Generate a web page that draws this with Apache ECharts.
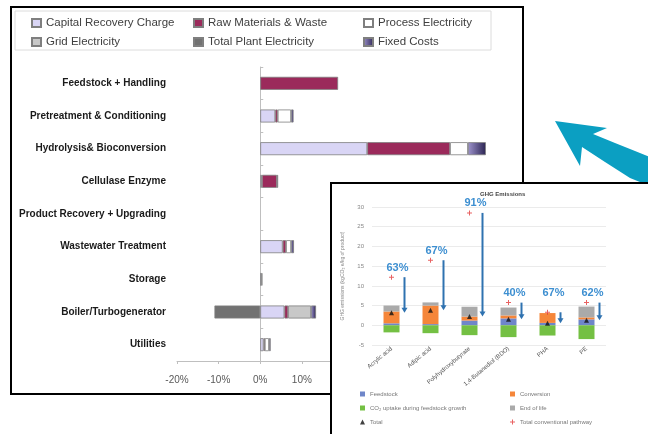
<!DOCTYPE html>
<html>
<head>
<meta charset="utf-8">
<script src="https://cdn.jsdelivr.net/npm/echarts@6/dist/echarts.min.js"></script>
<style>
  html, body { margin: 0; padding: 0; background: #ffffff; }
  #chart { width: 648px; height: 434px; }
</style>
</head>
<body>
<div id="chart"></div>
<script>
// ---- Cost contribution by process area (% of total) ----
const processAreas = ['Feedstock + Handling', 'Pretreatment & Conditioning', 'Hydrolysis& Bioconversion',
  'Cellulase Enzyme', 'Product Recovery + Upgrading', 'Wastewater Treatment', 'Storage',
  'Boiler/Turbogenerator', 'Utilities'];
const capitalRecovery       = [0, 3.6, 25.7, 0.4, 0, 5.4, 0.3, 5.8, 0.8];
const rawMaterials          = [18.7, 0.6, 19.9, 3.6, 0, 0.8, 0, 0.9, 0.3];
const processElectricity    = [0, 3.2, 4.3, 0, 0, 1.2, 0, 0, 1.0];
const gridElectricity       = [0, 0, 0, 0, 0, 0, 0, 5.5, 0];
const totalPlantElectricity = [0, 0, 0, 0, 0, 0, 0, -11.0, 0];
const fixedCosts            = [0, 0.6, 4.3, 0.3, 0, 0.7, 0.2, 1.2, 0.4];

// ---- GHG emissions per product (kg CO2e / kg product) ----
const products          = ['Acrylic acid', 'Adipic acid', 'Polyhydroxybutyrate', '1,4-Butanediol (BDO)', 'PHA', 'PE'];
const feedstockGhg      = [0.5, 0.3, 1.2, 1.75, 0.6, 1.5];
const conversionGhg     = [3.0, 4.7, 1.0, 0.75, 2.5, 0.5];
const co2Uptake         = [-1.8, -2.0, -2.5, -3.0, -2.6, -3.5];
const endOfLifeGhg      = [1.5, 0.8, 2.5, 2.0, 0, 2.75];
const totalBio          = [3.2, 3.8, 2.2, 1.5, 0.5, 1.25];
const totalConventional = [12.2, 16.5, 28.5, 5.75, 3.3, 5.75];
const reductionLabels   = ['63%', '67%', '91%', '40%', '67%', '62%'];

const chart = echarts.init(document.getElementById('chart'), null, { renderer: 'canvas' });

const noZero = arr => arr.map(v => (v === 0 ? '-' : v));
const segBorder = { borderColor: '#7f7f7f', borderWidth: 0.8 };
const FONT = '"Liberation Sans", Arial, sans-serif';

const costSeries = [
  { name: 'Capital Recovery Charge', data: capitalRecovery, color: '#d9d5f5' },
  { name: 'Raw Materials & Waste', data: rawMaterials, color: '#9b2a5b' },
  { name: 'Process Electricity', data: processElectricity, color: '#ffffff' },
  { name: 'Grid Electricity', data: gridElectricity, color: '#c8c8c8' },
  { name: 'Total Plant Electricity', data: totalPlantElectricity, color: '#727272' },
  { name: 'Fixed Costs', data: fixedCosts,
    color: new echarts.graphic.LinearGradient(0, 0, 1, 0, [
      { offset: 0, color: '#9d93cc' }, { offset: 1, color: '#2b2352' }]) }
].map(s => ({
  name: s.name, type: 'bar', stack: 'cost', barWidth: 13,
  xAxisIndex: 0, yAxisIndex: 0,
  itemStyle: Object.assign({ color: s.color }, segBorder),
  data: noZero(s.data)
}));

const ghgBars = [
  { name: 'Feedstock', data: feedstockGhg, color: '#6f86c9' },
  { name: 'Conversion', data: conversionGhg, color: '#f5863a' },
  { name: 'End of life', data: endOfLifeGhg, color: '#aaaaaa' },
  { name: 'CO\u2082 uptake during feedstock growth', data: co2Uptake, color: '#74c043' }
].map(s => ({
  name: s.name, type: 'bar', stack: 'ghg', barWidth: 16, z: 20,
  xAxisIndex: 1, yAxisIndex: 2,
  itemStyle: { color: s.color },
  data: noZero(s.data)
}));

const plusPath = 'path://M4,0H6V4H10V6H6V10H4V6H0V4H4Z';

const arrowBlue = '#2f72b0';
const reductionArrows = {
  name: 'reduction', type: 'custom', xAxisIndex: 1, yAxisIndex: 2, z: 22,
  encode: { x: 0, y: [1, 2] },
  data: products.map((p, i) => [i, totalConventional[i], totalBio[i]]),
  renderItem: function (params, api) {
    const i = api.value(0);
    const top = api.coord([i, api.value(1)]);
    const bot = api.coord([i, api.value(2)]);
    const x = top[0] + 13;
    return {
      type: 'group',
      children: [
        { type: 'line', shape: { x1: x, y1: top[1], x2: x, y2: bot[1] - 4 },
          style: { stroke: arrowBlue, lineWidth: 2 } },
        { type: 'polygon', shape: { points: [[x - 3, bot[1] - 5], [x + 3, bot[1] - 5], [x, bot[1]]] },
          style: { fill: arrowBlue } }
      ]
    };
  }
};

const reductionText = {
  name: 'reductionText', type: 'custom', xAxisIndex: 1, yAxisIndex: 2, z: 23,
  encode: { x: 0, y: 1 },
  data: products.map((p, i) => [i, totalConventional[i]]),
  renderItem: function (params, api) {
    const i = api.value(0);
    const conv = api.coord([i, api.value(1)]);
    const floor = api.coord([i, 5.75]);
    return {
      type: 'text',
      style: {
        text: reductionLabels[params.dataIndex],
        x: conv[0] + 6, y: Math.min(conv[1], floor[1]) - 4,
        align: 'center', verticalAlign: 'bottom',
        fill: '#3d8fd1', font: 'bold 11px ' + FONT
      }
    };
  }
};

const legendText = { color: '#404040', fontSize: 11.5, fontFamily: FONT };
const mainLegendPos = [
  ['Capital Recovery Charge', 31, 17], ['Raw Materials & Waste', 193, 17], ['Process Electricity', 363, 17],
  ['Grid Electricity', 31, 36], ['Total Plant Electricity', 193, 36], ['Fixed Costs', 363, 36]
];
const insetLegendText = { color: '#777777', fontSize: 6, fontFamily: FONT };
const insetLegendPos = [
  ['Feedstock', 360, 391, 'rect'], ['Conversion', 510, 391, 'rect'],
  ['CO\u2082 uptake during feedstock growth', 360, 405, 'rect'], ['End of life', 510, 405, 'rect'],
  ['Total', 360, 419, 'triangle'], ['Total conventional pathway', 510, 419, plusPath]
];

const legends = mainLegendPos.map(([n, l, t]) => ({
  data: [n], left: l, top: t, itemWidth: 9, itemHeight: 8, itemGap: 0,
  icon: 'rect', textStyle: legendText, padding: 0, selectedMode: false
})).concat(insetLegendPos.map(([n, l, t, ic]) => ({
  data: [n], left: l, top: t, itemWidth: 5, itemHeight: 5, itemGap: 0, z: 30,
  icon: ic, textStyle: insetLegendText, padding: 0, selectedMode: false
})));

const tealArrow = [[555, 121], [607, 128], [593, 134], [615, 143], [635, 151], [650, 157],
  [650, 186], [630, 178], [605, 162], [582, 147], [580, 166]];

const option = {
  backgroundColor: '#ffffff',
  animation: false,
  legend: legends,
  graphic: [
    { type: 'rect', z: 1, silent: true, shape: { x: 11, y: 7, width: 512, height: 387 },
      style: { fill: 'none', stroke: '#000000', lineWidth: 2 } },
    { type: 'rect', z: 1, silent: true, shape: { x: 15, y: 11, width: 476, height: 39 },
      style: { fill: 'none', stroke: '#dcdcdc', lineWidth: 1 } },
    { type: 'polygon', z: 5, silent: true, shape: { points: tealArrow },
      style: { fill: '#0b9fc2' } },
    { type: 'rect', z: 10, silent: true, shape: { x: 331, y: 183, width: 330, height: 260 },
      style: { fill: '#ffffff', stroke: '#000000', lineWidth: 2 } },
    { type: 'text', z: 25, silent: true, left: 480, top: 191,
      style: { text: 'GHG Emissions', fill: '#444444', font: 'bold 6px ' + FONT } },
    { type: 'text', z: 25, silent: true, x: 343, y: 276, rotation: Math.PI / 2,
      style: { text: 'GHG emissions (kgCO\u2082 e/kg of product)', fill: '#888888',
        font: '5px ' + FONT, align: 'center', verticalAlign: 'middle' } }
  ],
  grid: [
    { left: 177, top: 67, width: 333, height: 294 },
    { left: 372, top: 207, width: 234, height: 138, z: 20 }
  ],
  xAxis: [
    { type: 'value', gridIndex: 0, min: -20, max: 60, interval: 10,
      axisLine: { show: true, lineStyle: { color: '#bfbfbf' } },
      axisTick: { show: true, length: 3, lineStyle: { color: '#bfbfbf' } },
      splitLine: { show: false },
      axisLabel: { formatter: '{value}%', color: '#595959', fontSize: 10, margin: 14, fontFamily: FONT } },
    { type: 'category', gridIndex: 1, data: products, z: 20,
      axisLine: { show: false }, axisTick: { show: false },
      axisLabel: { rotate: 40, interval: 0, fontSize: 6, color: '#555555', margin: 3, fontFamily: FONT } }
  ],
  yAxis: [
    { type: 'category', gridIndex: 0, data: processAreas, inverse: true,
      axisLine: { show: false, onZero: false }, axisTick: { show: false },
      axisLabel: { interval: 0, color: '#1a1a1a', fontSize: 10, fontWeight: 'bold', margin: 11, fontFamily: FONT } },
    { type: 'category', gridIndex: 0, data: processAreas, inverse: true,
      axisLine: { show: true, onZero: true, lineStyle: { color: '#bfbfbf' } },
      axisTick: { show: true, length: 3, lineStyle: { color: '#bfbfbf' } },
      axisLabel: { show: false } },
    { type: 'value', gridIndex: 1, min: -5, max: 30, interval: 5, z: 20,
      axisLine: { show: false }, axisTick: { show: false },
      splitLine: { lineStyle: { color: '#e6e6e6', width: 0.8 } },
      axisLabel: { fontSize: 6, color: '#888888', margin: 8, fontFamily: FONT } }
  ],
  series: costSeries.concat(ghgBars, [
    { name: 'Total', type: 'scatter', xAxisIndex: 1, yAxisIndex: 2, z: 24,
      symbol: 'triangle', symbolSize: 5, itemStyle: { color: '#111111' }, data: totalBio },
    { name: 'Total conventional pathway', type: 'scatter', xAxisIndex: 1, yAxisIndex: 2, z: 24,
      symbol: plusPath, symbolSize: 5, itemStyle: { color: '#e23b3b' }, data: totalConventional },
    reductionArrows,
    reductionText
  ])
};

chart.setOption(option);
</script>
</body>
</html>
